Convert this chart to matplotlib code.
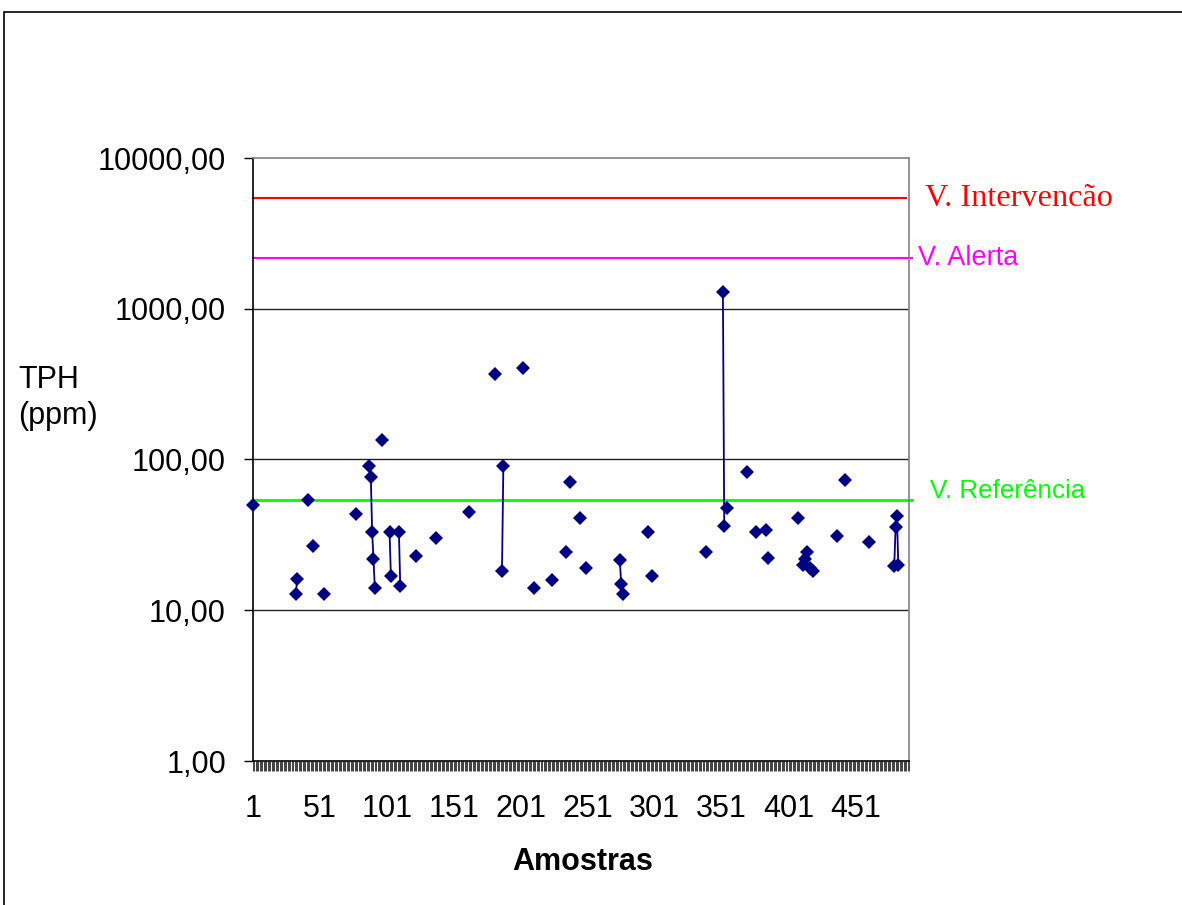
import numpy as np
import matplotlib
matplotlib.use("Agg")
import matplotlib.pyplot as plt
from matplotlib.ticker import FixedLocator, FuncFormatter, NullFormatter
from matplotlib.patches import Rectangle

# sample number -> TPH (ppm); samples without a value are left empty
sample_ids = [1, 33, 34, 42, 46, 54, 78, 88, 89, 90, 91, 92, 97, 103, 104,
              110, 111, 123, 138, 162, 182, 187, 188, 203, 211, 224, 235,
              238, 245, 250, 275, 276, 277, 296, 299, 339, 352, 353, 355,
              370, 377, 384, 386, 408, 412, 413, 415, 417, 419, 437, 443,
              461, 480, 481, 482, 483]
tph_values = [50, 12.9, 16, 54, 26.6, 12.9, 43.6, 91, 77, 33, 22, 14, 134,
              33, 16.8, 33, 14.4, 22.8, 30.2, 44.7, 368, 18.3, 91, 404, 14.1,
              15.8, 24.3, 71, 40.8, 19.1, 21.6, 15, 12.9, 33, 16.8, 24.3,
              1283, 36, 47.5, 82.4, 33, 34.1, 22.2, 40.8, 20.1, 21.9, 24.3,
              19.1, 18.3, 31, 73.3, 28.3, 19.8, 35.9, 42, 20.1]
n_samples = 491

limit_intervencao = 5400
limit_alerta = 2170
limit_referencia = 54

x_labels = list(range(1, 452, 50))
y_ticks = [1, 10, 100, 1000, 10000]

plt.rcParams['font.family'] = ['Liberation Sans', 'DejaVu Sans']

series = np.full(n_samples, np.nan)
series[np.array(sample_ids) - 1] = tph_values
x = np.arange(1, n_samples + 1)

fig = plt.figure(figsize=(11.82, 9.05), dpi=100)
ax = fig.add_axes([253 / 1182, 1 - 761 / 905, 656 / 1182, 603 / 905])

ax.set_yscale('log')
ax.set_ylim(1, 10000)
ax.set_xlim(1, n_samples)

for yv in y_ticks[1:-1]:
    ax.axhline(yv, color='#222222', lw=1.0, zorder=1)

ax.plot([1, 488.5], [limit_intervencao] * 2, color='#FF0000', lw=1.5, zorder=2, clip_on=False)
ax.plot([1, 493.5], [limit_alerta] * 2, color='#FF00FF', lw=1.5, zorder=2, clip_on=False)
ax.plot([1, 493.5], [limit_referencia] * 2, color='#00FF00', lw=2.0, zorder=2, clip_on=False)

ax.plot(x, series, color='#000080', lw=1.3, marker='D', ms=7.6,
        markeredgewidth=0, zorder=3, clip_on=False)

ax.text(1.025, limit_intervencao, 'V. Intervencão', transform=ax.get_yaxis_transform(),
        color='#FF0000', fontsize=23.2, family=['Liberation Serif'], va='center', ha='left')
ax.text(1.014, limit_alerta, 'V. Alerta', transform=ax.get_yaxis_transform(),
        color='#FF00FF', fontsize=19.5, va='center', ha='left')
ax.text(1.032, 62, 'V. Referência', transform=ax.get_yaxis_transform(),
        color='#00FF00', fontsize=18.7, va='center', ha='left')

# axes and spines
for side in ['top', 'right']:
    ax.spines[side].set_color('#808080')
    ax.spines[side].set_linewidth(1.2)
for side in ['left', 'bottom']:
    ax.spines[side].set_color('black')
    ax.spines[side].set_linewidth(1.2)

ax.yaxis.set_major_locator(FixedLocator(y_ticks))
ax.yaxis.set_minor_locator(FixedLocator([]))
ax.yaxis.set_major_formatter(FuncFormatter(lambda v, p: f'{v:.2f}'.replace('.', ',')))
ax.tick_params(axis='y', which='major', direction='out', length=6.5, width=1.0,
               labelsize=22, pad=13)

ax.xaxis.set_major_locator(FixedLocator(x_labels))
ax.xaxis.set_minor_locator(FixedLocator(x))
ax.xaxis.set_minor_formatter(NullFormatter())
ax.tick_params(axis='x', which='both', direction='out', length=7, width=0.6,
               color='#222222', labelsize=22, pad=17)

fig.text(18 / 1182, 1 - 398 / 905, 'TPH\n(ppm)', fontsize=22, ha='left', va='center',
         linespacing=1.25)
fig.text(583 / 1182, 1 - 862 / 905, 'Amostras', fontsize=22, fontweight='bold',
         ha='center', va='center')

fig.patches.append(Rectangle((4 / 1182, -0.05), 1.2, 1.05 - 12 / 905, transform=fig.transFigure,
                             fill=False, edgecolor='black', lw=1.2))

fig.savefig('out.png', dpi=100)
